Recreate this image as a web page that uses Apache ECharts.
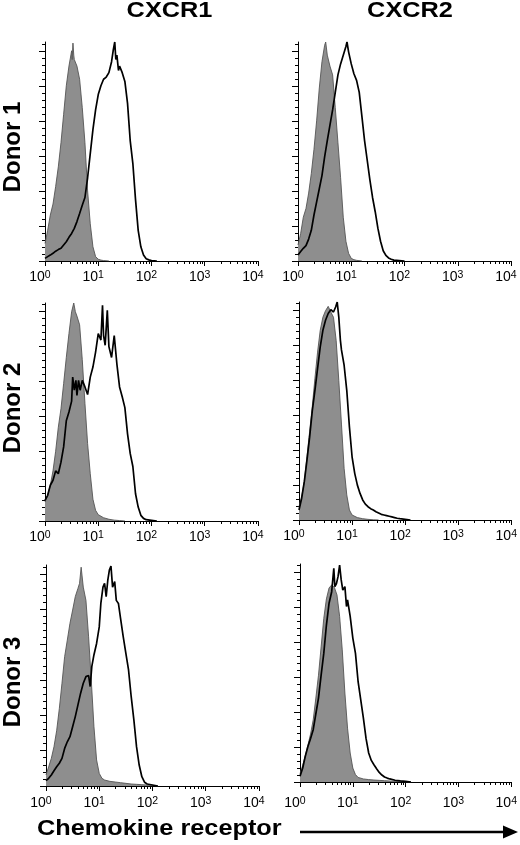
<!DOCTYPE html>
<html>
<head>
<meta charset="utf-8">
<script src="https://cdn.jsdelivr.net/npm/echarts@6/dist/echarts.min.js"></script>
<style>
html,body{margin:0;padding:0;background:#fff;}
#chart{width:520px;height:845px;}
</style>
</head>
<body>
<div id="chart"></div>
<script>
// ---- Data: [log10 fluorescence, % of max count] ----
const columnTitles = ['CXCR1', 'CXCR2'];
const rowTitles = ['Donor 1', 'Donor 2', 'Donor 3'];
const xTickExponents = [0, 1, 2, 3, 4];
const minorMultipliers = [2, 3, 4, 5, 6, 7, 8, 9];
const minorDecades = [1, 10, 100, 1000];

const cxcr1Donor1Isotype = [[0,8],[0.05,14],[0.1,21],[0.15,26],[0.2,34],[0.25,43],[0.3,54],[0.35,67],[0.4,80],[0.45,89],[0.5,96],[0.51,92],[0.525,99.5],[0.54,94],[0.55,92],[0.6,89],[0.65,83],[0.7,70],[0.75,54],[0.8,32],[0.85,17],[0.9,6.5],[0.95,2],[1.0,0.8],[1.05,0.4],[1.1,0.2],[1.2,0]];
const cxcr1Donor1Receptor = [[0,1.2],[0.05,2],[0.1,2.7],[0.15,3.5],[0.2,4.5],[0.25,5.2],[0.3,5.8],[0.35,7.3],[0.4,8.8],[0.45,10.8],[0.5,12.6],[0.55,14.9],[0.6,18],[0.65,21.7],[0.7,25.5],[0.75,29],[0.8,38],[0.85,49],[0.9,60],[0.95,69],[1.0,76],[1.05,80],[1.1,83],[1.15,84],[1.2,86],[1.25,91],[1.28,96],[1.31,100],[1.33,92],[1.35,94],[1.38,87],[1.4,89],[1.45,86],[1.5,82],[1.55,72],[1.6,55],[1.65,44.5],[1.7,28],[1.75,14],[1.8,6.5],[1.85,2.7],[1.9,1],[1.95,0.5],[2.0,0.2],[2.1,0]];

const cxcr2Donor1Isotype = [[0,7.3],[0.05,12.6],[0.1,20],[0.15,24],[0.2,31],[0.25,40],[0.3,51],[0.35,64],[0.4,79],[0.45,91],[0.5,98.5],[0.52,100],[0.55,94],[0.6,89],[0.65,85],[0.7,70],[0.75,54],[0.8,38],[0.85,20],[0.9,9],[0.95,3.5],[1.0,1.2],[1.05,0.6],[1.1,0.3],[1.2,0]];
const cxcr2Donor1Receptor = [[0,2.7],[0.05,4.3],[0.1,5.8],[0.15,7],[0.2,10],[0.25,14],[0.3,21],[0.35,27],[0.4,33],[0.45,39],[0.5,47.5],[0.55,55],[0.6,62],[0.65,69],[0.7,77],[0.75,85],[0.8,90],[0.85,94],[0.9,98],[0.92,100],[0.95,95.5],[1.0,90],[1.05,85.5],[1.1,82.5],[1.15,77],[1.2,66],[1.25,55],[1.3,46],[1.35,37],[1.4,29],[1.45,22.5],[1.5,15],[1.55,9],[1.6,4.7],[1.65,2.6],[1.7,1.4],[1.75,0.8],[1.8,0.4],[1.9,0.2],[2.0,0]];

const cxcr1Donor2Isotype = [[0,8.7],[0.05,11.8],[0.1,16.4],[0.15,23],[0.2,32],[0.25,43],[0.3,51.5],[0.35,63],[0.4,75],[0.45,86],[0.5,96],[0.54,100],[0.57,96],[0.6,94],[0.65,90],[0.7,74],[0.75,54],[0.8,35.5],[0.85,21.7],[0.9,10],[0.95,4.9],[1.0,2.9],[1.1,1.5],[1.2,0.8],[1.3,0.4],[1.4,0.2],[1.5,0]];
const cxcr1Donor2Receptor = [[0,9.5],[0.05,11.8],[0.1,16.4],[0.15,18.7],[0.2,23],[0.25,21.7],[0.3,27],[0.35,34],[0.4,46],[0.45,50],[0.5,55],[0.52,66],[0.55,60],[0.58,64.5],[0.6,57.6],[0.63,64.5],[0.66,60],[0.7,64.5],[0.75,61.5],[0.8,58],[0.85,66],[0.9,70.6],[0.95,77.5],[1.0,86],[1.05,83],[1.08,99],[1.1,85],[1.13,80.6],[1.17,96.6],[1.2,80],[1.25,75],[1.3,85],[1.35,72],[1.4,61.5],[1.45,57],[1.5,52],[1.55,40],[1.6,31],[1.65,25],[1.7,12.5],[1.75,6.4],[1.8,2.6],[1.85,1.2],[1.9,0.6],[2.0,0.3],[2.1,0]];

const cxcr2Donor2Isotype = [[0,6.1],[0.05,10.7],[0.1,17.6],[0.15,29],[0.2,40.5],[0.25,52],[0.3,65],[0.35,77],[0.4,87],[0.45,93],[0.5,96],[0.55,98],[0.6,95.4],[0.65,93],[0.7,82.4],[0.75,64],[0.8,44],[0.85,23.7],[0.9,11.5],[0.95,4.6],[1.0,2.3],[1.1,1.1],[1.2,0.6],[1.3,0.3],[1.4,0.1],[1.5,0]];
const cxcr2Donor2Receptor = [[0,4.6],[0.05,10],[0.1,17.6],[0.15,27.5],[0.2,38],[0.25,50],[0.3,59.5],[0.35,69.5],[0.4,79.4],[0.45,87],[0.5,91.6],[0.55,94.7],[0.6,96.5],[0.63,97],[0.65,95.4],[0.69,97.7],[0.72,100],[0.75,93],[0.78,82.4],[0.8,78],[0.85,71],[0.9,59.5],[0.95,42.7],[1.0,29],[1.05,21.4],[1.1,16],[1.15,12.2],[1.2,9.2],[1.25,7.3],[1.3,6.1],[1.35,5.2],[1.4,4.6],[1.45,3.8],[1.5,3.2],[1.55,2.6],[1.6,2.3],[1.65,2],[1.7,1.7],[1.75,1.4],[1.8,1.1],[1.85,0.8],[1.9,0.6],[2.0,0.3],[2.1,0]];

const cxcr1Donor3Isotype = [[0,5],[0.05,8.7],[0.1,12.5],[0.15,17.8],[0.2,25],[0.25,35],[0.3,46.5],[0.35,58.5],[0.4,66],[0.45,73.6],[0.5,79.6],[0.55,85.7],[0.6,89.4],[0.63,91.7],[0.66,99],[0.7,90],[0.75,84],[0.8,67.5],[0.85,48],[0.9,27],[0.95,11.8],[1.0,5.7],[1.05,3.5],[1.1,2.7],[1.2,2.1],[1.3,1.8],[1.4,1.5],[1.5,1.2],[1.6,0.9],[1.7,0.75],[1.8,0.6],[1.9,0.45],[2.0,0.3],[2.1,0]];
const cxcr1Donor3Receptor = [[0,2.4],[0.05,3.5],[0.1,5],[0.15,6.9],[0.2,8.7],[0.25,10.3],[0.3,12.5],[0.35,17],[0.4,20],[0.45,22.3],[0.5,26.8],[0.55,31.4],[0.6,36.7],[0.65,42],[0.7,46.5],[0.75,49.5],[0.8,50],[0.83,45],[0.86,54],[0.9,59.3],[0.95,64.5],[1.0,72],[1.03,82.6],[1.07,90],[1.1,91.7],[1.13,85.7],[1.16,93],[1.19,97.7],[1.22,99.5],[1.25,90],[1.29,92.5],[1.32,84],[1.36,82.6],[1.4,75.9],[1.45,67.6],[1.5,60],[1.55,52.5],[1.6,40.4],[1.65,29.9],[1.7,17.8],[1.75,9.5],[1.8,4.2],[1.85,1.7],[1.9,0.9],[2.0,0.45],[2.1,0]];

const cxcr2Donor3Isotype = [[0,3.8],[0.05,7.5],[0.1,12],[0.15,17],[0.2,22],[0.25,28.5],[0.3,38.5],[0.35,49],[0.4,62],[0.45,75],[0.5,84],[0.55,89],[0.6,90.4],[0.65,89.3],[0.7,85.8],[0.75,76],[0.8,60.6],[0.85,40.8],[0.9,24.7],[0.95,13.3],[1.0,6.4],[1.05,3.4],[1.1,2.1],[1.2,1.4],[1.3,1.1],[1.4,0.9],[1.5,0.75],[1.6,0.6],[1.8,0.3],[2.0,0.1],[2.1,0]];
const cxcr2Donor3Receptor = [[0,2.6],[0.05,6.3],[0.1,11.8],[0.15,16.3],[0.2,20],[0.25,24],[0.3,31.3],[0.35,38.5],[0.4,49],[0.45,59],[0.5,72],[0.55,82],[0.6,87.3],[0.64,98],[0.66,89.6],[0.69,91],[0.72,94.2],[0.75,99.5],[0.78,92.7],[0.81,88],[0.85,89.6],[0.88,80.5],[0.9,83.5],[0.95,76],[1.0,66],[1.05,59],[1.1,46],[1.15,37.7],[1.2,29.3],[1.25,20],[1.3,13.3],[1.35,9.9],[1.4,7.9],[1.45,6.1],[1.5,4.4],[1.55,3.2],[1.6,2.3],[1.65,1.8],[1.7,1.4],[1.8,0.8],[1.9,0.5],[2.0,0.3],[2.1,0]];

// ---- Build ----
const FONT = '"Liberation Sans", Arial, Helvetica, sans-serif';
const panels = [
  {iso: cxcr1Donor1Isotype, rec: cxcr1Donor1Receptor, grid: {left: 45, top: 42, width: 213, height: 219}, labelMargin: 9},
  {iso: cxcr2Donor1Isotype, rec: cxcr2Donor1Receptor, grid: {left: 298, top: 42, width: 213, height: 219}, labelMargin: 9},
  {iso: cxcr1Donor2Isotype, rec: cxcr1Donor2Receptor, grid: {left: 45, top: 303, width: 213, height: 218}, labelMargin: 9},
  {iso: cxcr2Donor2Isotype, rec: cxcr2Donor2Receptor, grid: {left: 299, top: 302, width: 213, height: 218}, labelMargin: 9},
  {iso: cxcr1Donor3Isotype, rec: cxcr1Donor3Receptor, grid: {left: 46, top: 565, width: 213, height: 221}, labelMargin: 10},
  {iso: cxcr2Donor3Isotype, rec: cxcr2Donor3Receptor, grid: {left: 300, top: 564, width: 213, height: 218}, labelMargin: 14}
];

const yMinorTicks = [];
for (let i = 0; i <= 31; i++) yMinorTicks.push(+(i * 3.2).toFixed(2));
const yMajorTicks = [];
for (let i = 0; i <= 6; i++) yMajorTicks.push(i * 16);
const xMinorTickValues = [];
minorDecades.forEach(d => minorMultipliers.forEach(m => xMinorTickValues.push(m * d)));

const toPoints = arr => arr.map(p => [Math.pow(10, p[0]), p[1]]);

const grid = [], xAxis = [], yAxis = [], series = [];
panels.forEach((p, g) => {
  grid.push(Object.assign({containLabel: false}, p.grid));
  xAxis.push({
    type: 'log', logBase: 10, gridIndex: g, min: 1, max: 10000,
    axisLine: {show: true, onZero: false, lineStyle: {color: '#000', width: 1}},
    axisTick: {show: true, length: 5, lineStyle: {color: '#000', width: 1}},
    minorTick: {show: false},
    splitLine: {show: false},
    axisLabel: {
      show: true, margin: p.labelMargin, padding: [0, 10, 0, 0],
      formatter: v => '{b|10}{s|' + Math.round(Math.log10(v)) + '}',
      rich: {
        b: {fontSize: 14, lineHeight: 14, verticalAlign: 'bottom', color: '#000', fontFamily: FONT},
        s: {fontSize: 10.5, lineHeight: 10, verticalAlign: 'top', padding: [0, 0, 5, 0], color: '#000', fontFamily: FONT}
      }
    }
  });
  yAxis.push({
    type: 'value', gridIndex: g, min: 0, max: 100, position: 'left',
    axisLine: {show: true, lineStyle: {color: '#000', width: 1}},
    axisTick: {show: true, length: 3, customValues: yMinorTicks, lineStyle: {color: '#000', width: 1}},
    axisLabel: {show: false}, splitLine: {show: false}
  });
  yAxis.push({
    type: 'value', gridIndex: g, min: 0, max: 100, position: 'left', offset: 0,
    axisLine: {show: false},
    axisTick: {show: true, length: 6, customValues: yMajorTicks, lineStyle: {color: '#000', width: 1}},
    axisLabel: {show: false}, splitLine: {show: false}
  });
  series.push({
    name: 'Isotype ' + g, type: 'line', xAxisIndex: g, yAxisIndex: 2 * g,
    data: toPoints(p.iso), showSymbol: false, symbol: 'none', smooth: false,
    lineStyle: {color: '#555', width: 0.9},
    areaStyle: {color: '#8e8e8e', opacity: 1},
    z: 2
  });
  series.push({
    name: 'Receptor ' + g, type: 'line', xAxisIndex: g, yAxisIndex: 2 * g,
    data: toPoints(p.rec), showSymbol: false, symbol: 'none', smooth: false,
    lineStyle: {color: '#000', width: 1.7},
    z: 3
  });
  series.push({
    name: 'minorTicks ' + g, type: 'custom', xAxisIndex: g, yAxisIndex: 2 * g,
    clip: false, silent: true, z: 4,
    data: xMinorTickValues.map(v => [v, 0]),
    renderItem: (params, api) => {
      const pt = api.coord([api.value(0), 0]);
      const x = Math.round(pt[0]) + 0.5;
      return {type: 'line', shape: {x1: x, y1: pt[1], x2: x, y2: pt[1] + 3}, style: {stroke: '#000', lineWidth: 1}};
    }
  });
});

const graphic = [
  {type: 'text', x: 169.5, y: 11, scaleX: 1.15, style: {text: columnTitles[0], x: 0, y: 0, align: 'center', verticalAlign: 'middle', fontSize: 22, fontWeight: 'bold', fontFamily: FONT, fill: '#000'}},
  {type: 'text', x: 410, y: 11, scaleX: 1.15, style: {text: columnTitles[1], x: 0, y: 0, align: 'center', verticalAlign: 'middle', fontSize: 22, fontWeight: 'bold', fontFamily: FONT, fill: '#000'}},
  {type: 'text', x: 13, y: 147, rotation: Math.PI / 2, style: {text: rowTitles[0], x: 0, y: 0, align: 'center', verticalAlign: 'middle', fontSize: 24, fontWeight: 'bold', fontFamily: FONT, fill: '#000'}},
  {type: 'text', x: 13, y: 408, rotation: Math.PI / 2, style: {text: rowTitles[1], x: 0, y: 0, align: 'center', verticalAlign: 'middle', fontSize: 24, fontWeight: 'bold', fontFamily: FONT, fill: '#000'}},
  {type: 'text', x: 13, y: 682, rotation: Math.PI / 2, style: {text: rowTitles[2], x: 0, y: 0, align: 'center', verticalAlign: 'middle', fontSize: 24, fontWeight: 'bold', fontFamily: FONT, fill: '#000'}},
  {type: 'text', x: 37, y: 829, scaleX: 1.15, style: {text: 'Chemokine receptor', x: 0, y: 0, align: 'left', verticalAlign: 'middle', fontSize: 22, fontWeight: 'bold', fontFamily: FONT, fill: '#000'}},
  {type: 'line', shape: {x1: 300, y1: 832, x2: 506, y2: 832}, style: {stroke: '#000', lineWidth: 2.5}},
  {type: 'polygon', shape: {points: [[503, 825.5], [518, 832], [503, 838.5]]}, style: {fill: '#000'}}
];

const chart = echarts.init(document.getElementById('chart'), null, {renderer: 'canvas'});
chart.setOption({
  backgroundColor: '#fff',
  animation: false,
  grid, xAxis, yAxis, series, graphic
});
</script>
</body>
</html>
